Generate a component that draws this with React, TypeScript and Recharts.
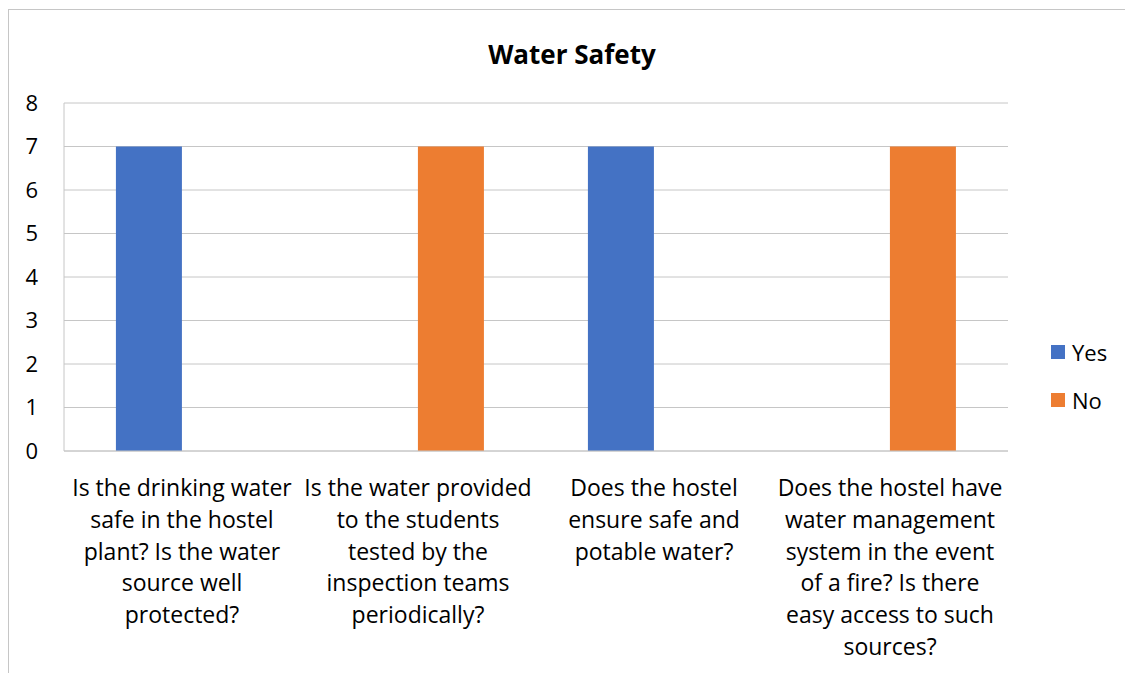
import { Bar, BarChart, CartesianGrid, XAxis, YAxis } from 'recharts'

const categories = [
    'Is the drinking water\nsafe in the hostel\nplant? Is the water\nsource well\nprotected?',
    'Is the water provided\nto the students\ntested by the\ninspection teams\nperiodically?',
    'Does the hostel\nensure safe and\npotable water?',
    'Does the hostel have\nwater management\nsystem in the event\nof a fire? Is there\neasy access to such\nsources?',
]
const yesValues = [7, 0, 7, 0]
const noValues = [0, 7, 0, 7]
const yTicks = [0, 1, 2, 3, 4, 5, 6, 7, 8]

const series = [
    { key: 'yes', name: 'Yes', color: '#4472C4' },
    { key: 'no', name: 'No', color: '#ED7D31' },
]

const data = categories.map((question, i) => ({ question, yes: yesValues[i], no: noValues[i] }))

const FONT = '"Open Sans", Carlito, Calibri, sans-serif'
const GRID = '#c6c6c6'

const QuestionTick = ({ x, y, payload }: any) => {
    const lines = String(payload.value).split('\n')
    return (
        <text x={x} y={y + 45} textAnchor="middle" fill="#000" fontSize={23} fontFamily={FONT}>
            {lines.map((line, i) => (
                <tspan key={i} x={x} dy={i === 0 ? 0 : 31.8}>{line}</tspan>
            ))}
        </text>
    )
}

export default function App() {
    return (
        <div style={{ position: 'relative', top: 1, width: 1124, height: 664, borderTop: `1px solid ${GRID}`, borderLeft: `1px solid ${GRID}`, background: '#fff' }}>
            <div style={{ position: 'absolute', left: 0, width: 1126, top: 26, textAlign: 'center', fontFamily: FONT, fontWeight: 'bold', fontSize: 26, color: '#000' }}>
                Water Safety
            </div>
            <BarChart width={1124} height={662} data={data} margin={{ top: 93, right: 125, left: 5, bottom: 20 }} barCategoryGap="22%" barGap={0}>
                <CartesianGrid vertical={false} stroke={GRID} />
                <XAxis dataKey="question" height={201} interval={0} tick={<QuestionTick />} tickLine={false} tickSize={0} tickMargin={0} axisLine={{ stroke: GRID }} />
                <YAxis width={50} domain={[0, 8]} ticks={yTicks} interval={0} tickLine={false} tickMargin={20} axisLine={{ stroke: GRID }} tick={{ fontSize: 22, fill: '#000', fontFamily: FONT }} />
                {series.map((s) => (
                    <Bar key={s.key} dataKey={s.key} name={s.name} fill={s.color} isAnimationActive={false} />
                ))}
            </BarChart>
            <div style={{ position: 'absolute', left: 1042, top: 318, fontFamily: FONT, fontSize: 22, color: '#000' }}>
                {series.map((s) => (
                    <div key={s.key} style={{ display: 'flex', alignItems: 'center', height: 48 }}>
                        <span style={{ width: 14, height: 14, background: s.color, marginRight: 7 }} />
                        {s.name}
                    </div>
                ))}
            </div>
        </div>
    )
}
